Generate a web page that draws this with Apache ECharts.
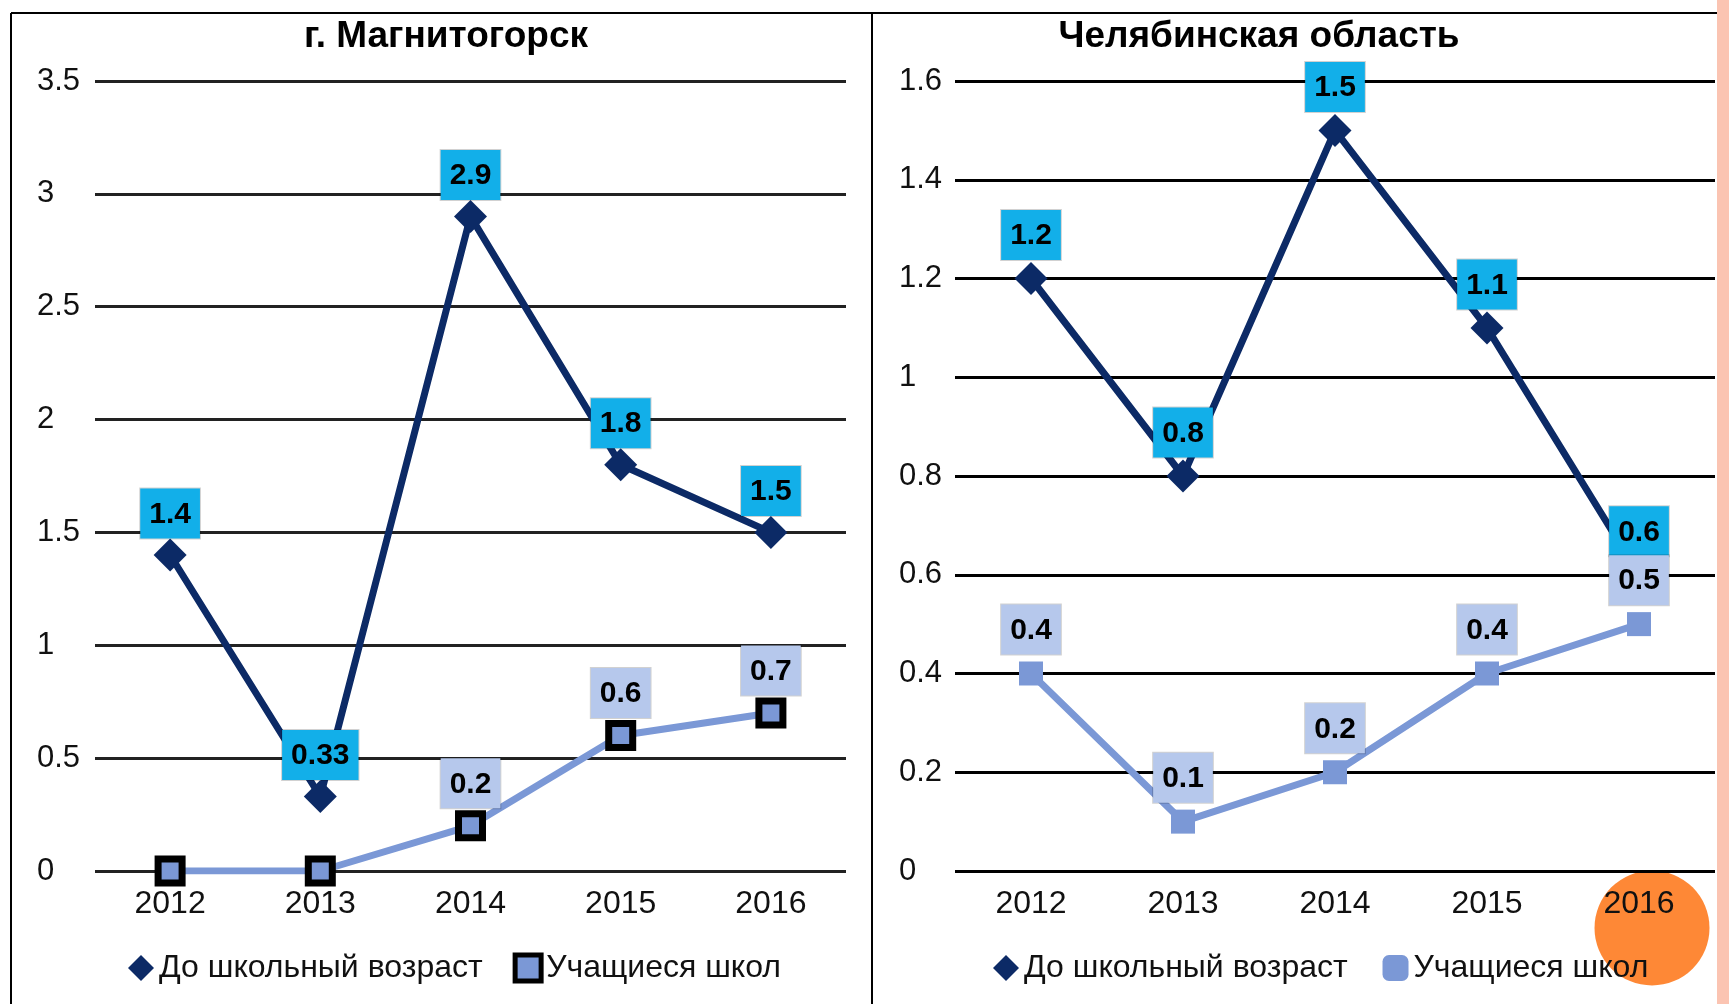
<!DOCTYPE html>
<html><head><meta charset="utf-8">
<script src="https://cdn.jsdelivr.net/npm/echarts@6/dist/echarts.min.js"></script>
<style>html,body{margin:0;padding:0;background:#fff}#c{width:1729px;height:1004px}</style>
</head><body><div id="c"></div>
<script>
var years = ['2012','2013','2014','2015','2016'];
var titleLeft = 'г. Магнитогорск';
var titleRight = 'Челябинская область';
var nameA = 'До школьный возраст';
var nameB = 'Учащиеся школ';
var magPreschool = [1.4, 0.33, 2.9, 1.8, 1.5];
var magSchool = [0, 0, 0.2, 0.6, 0.7];
var chePreschool = [1.2, 0.8, 1.5, 1.1, 0.6];
var cheSchool = [0.4, 0.1, 0.2, 0.4, 0.5];
var yLeft = {min: 0, max: 3.5, interval: 0.5};
var yRight = {min: 0, max: 1.6, interval: 0.2};

var FONT = 'Liberation Sans, Arial, sans-serif';
var NAVY = '#0c2a66';
var LBLUE = '#7b98d6';
var chart = echarts.init(document.getElementById('c'));

function lbl(bg, dist){
  return {show: true, position: 'top', distance: dist, fontFamily: FONT, fontSize: 30, fontWeight: 'bold',
    color: '#000', backgroundColor: bg, borderColor: 'rgba(0,0,0,0.18)', borderWidth: 1,
    padding: [11, 9, 9, 9], lineHeight: 30};
}
// hide data labels for zero values (as in the reference)
function pts(arr){
  return arr.map(function(v){ return v === 0 ? {value: v, label: {show: false}} : v; });
}
function xAx(gi){
  return {type: 'category', gridIndex: gi, data: years, boundaryGap: true,
    axisLine: {show: false}, axisTick: {show: false},
    axisLabel: {fontFamily: FONT, fontSize: 32, color: '#111', margin: 17}};
}
function yAx(gi, r, margin, lc){
  return {type: 'value', gridIndex: gi, min: r.min, max: r.max, interval: r.interval,
    axisLine: {show: false}, axisTick: {show: false},
    splitLine: {lineStyle: {color: lc, width: 3}},
    axisLabel: {fontFamily: FONT, fontSize: 31, color: '#111', align: 'left', margin: margin, padding: [3, 0, 0, 0]}};
}
chart.setOption({
  animation: false,
  title: [
    {text: titleLeft, left: 441, textAlign: 'center', top: 13, textStyle: {fontFamily: FONT, fontSize: 37, fontWeight: 'bold', color: '#000'}},
    {text: titleRight, left: 1254, textAlign: 'center', top: 13, textStyle: {fontFamily: FONT, fontSize: 37, fontWeight: 'bold', color: '#000'}}
  ],
  grid: [
    {left: 95, top: 81, width: 751, height: 790},
    {left: 955, top: 81, width: 760, height: 790}
  ],
  xAxis: [xAx(0), xAx(1)],
  yAxis: [yAx(0, yLeft, 58, '#222'), yAx(1, yRight, 56, '#000')],
  legend: [
    {left: 128, top: 952, padding: 0, itemGap: 30, itemWidth: 26, itemHeight: 26, itemTextGap: 4,
      textStyle: {fontFamily: FONT, fontSize: 32, color: '#111'},
      data: [{name: nameA, icon: 'diamond'}, {name: nameB, icon: 'rect', itemStyle: {color: LBLUE, borderColor: '#000', borderWidth: 5}}]},
    {left: 993, top: 952, padding: 0, itemGap: 26, itemWidth: 26, itemHeight: 26, itemTextGap: 4,
      textStyle: {fontFamily: FONT, fontSize: 32, color: '#111'},
      data: [{name: nameA + ' ', icon: 'diamond'}, {name: nameB + ' ', icon: 'roundRect'}]}
  ],
  series: [
    {name: nameB, type: 'line', xAxisIndex: 0, yAxisIndex: 0, data: pts(magSchool), z: 3,
      symbol: 'rect', symbolSize: 24, lineStyle: {color: LBLUE, width: 7},
      itemStyle: {color: LBLUE, borderColor: '#000', borderWidth: 7}, label: lbl('#b6c8ec', 2)},
    {name: nameA, type: 'line', xAxisIndex: 0, yAxisIndex: 0, data: pts(magPreschool), z: 4,
      symbol: 'diamond', symbolSize: 33, lineStyle: {color: NAVY, width: 7},
      itemStyle: {color: NAVY}, label: lbl('#12afe9', 0)},
    {name: nameB + ' ', type: 'line', xAxisIndex: 1, yAxisIndex: 1, data: pts(cheSchool), z: 5,
      symbol: 'rect', symbolSize: 24, lineStyle: {color: LBLUE, width: 7},
      itemStyle: {color: LBLUE}, label: lbl('#b6c8ec', 7)},
    {name: nameA + ' ', type: 'line', xAxisIndex: 1, yAxisIndex: 1, data: pts(chePreschool), z: 4,
      symbol: 'diamond', symbolSize: 33, lineStyle: {color: NAVY, width: 7},
      itemStyle: {color: NAVY}, label: lbl('#12afe9', 2)}
  ],
  graphic: [
    {type: 'line', shape: {x1: 11, y1: 13, x2: 1717, y2: 13}, style: {stroke: '#000', lineWidth: 2}, z: 100},
    {type: 'line', shape: {x1: 11, y1: 13, x2: 11, y2: 1004}, style: {stroke: '#000', lineWidth: 2}, z: 100},
    {type: 'line', shape: {x1: 872, y1: 13, x2: 872, y2: 1004}, style: {stroke: '#000', lineWidth: 2}, z: 100},
    {type: 'rect', shape: {x: 1717, y: 0, width: 12, height: 1004}, style: {fill: '#fbc4b2'}, z: 100},
    {type: 'circle', shape: {cx: 1652, cy: 928, r: 57.5}, style: {fill: '#fe8836'}, z: -1}
  ]
});
</script></body></html>
